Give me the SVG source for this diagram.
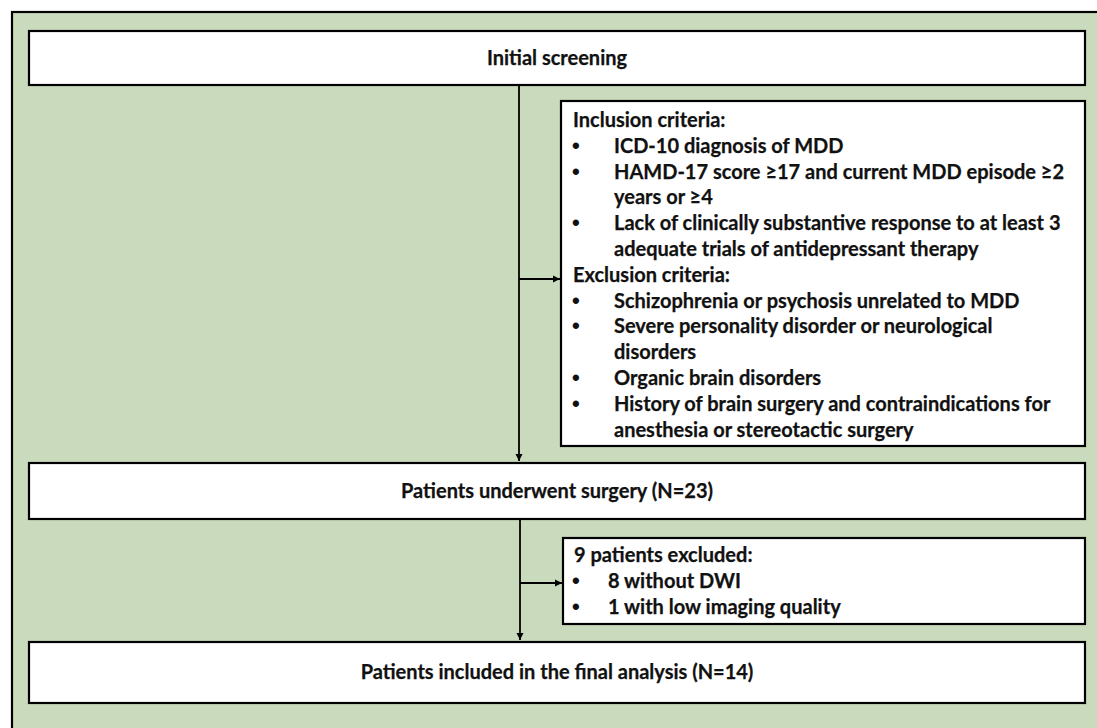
<svg xmlns="http://www.w3.org/2000/svg" width="1097" height="728" viewBox="0 0 1097 728">
<defs>
<style>
.box{fill:#fff;stroke:#000;stroke-width:2.2}
.t{font-family:Lato,"Open Sans","Liberation Sans",sans-serif;font-weight:bold;font-size:20px;fill:#111;stroke:#111;stroke-width:0.25}
.b{font-family:"Liberation Sans",sans-serif;font-weight:bold;font-size:22px;fill:#111}
.c{text-anchor:middle}
.ln{stroke:#000;stroke-width:1.8;fill:none}
</style>
<marker id="ah" markerWidth="8" markerHeight="8" refX="7" refY="4" orient="auto" markerUnits="userSpaceOnUse">
<path d="M0,0.5 L7,4 L0,7.5 Z" fill="#000"/>
</marker>
</defs>
<rect x="0" y="0" width="1097" height="728" fill="#fff"/>
<rect x="12" y="12" width="1100" height="730" fill="#CADABD" stroke="#000" stroke-width="2.2"/>
<g id="connectors">
<line class="ln" x1="519" y1="86" x2="519" y2="461" marker-end="url(#ah)"/>
<line class="ln" x1="519" y1="279" x2="560" y2="279" marker-end="url(#ah)"/>
<line class="ln" x1="520" y1="520" x2="520" y2="640" marker-end="url(#ah)"/>
<line class="ln" x1="520" y1="583" x2="562" y2="583" marker-end="url(#ah)"/>
</g>
<g id="initial">
<rect class="box" x="29" y="31" width="1056" height="54"/>
<text class="t c" x="557" y="65">Initial screening</text>
</g>
<g id="criteria">
<rect class="box" x="561" y="101" width="524" height="345"/>
<text class="t" x="573" y="127">Inclusion criteria:</text>
<text class="b" x="572" y="152.8">•</text><text class="t" x="614" y="152.8">ICD-10 diagnosis of MDD</text>
<text class="b" x="572" y="178.6">•</text><text class="t" x="614" y="178.6">HAMD-17 score ≥17 and current MDD episode ≥2</text>
<text class="t" x="614" y="204.4">years or ≥4</text>
<text class="b" x="572" y="230.2">•</text><text class="t" x="614" y="230.2">Lack of clinically substantive response to at least 3</text>
<text class="t" x="614" y="256">adequate trials of antidepressant therapy</text>
<text class="t" x="573" y="281.8">Exclusion criteria:</text>
<text class="b" x="572" y="307.6">•</text><text class="t" x="614" y="307.6">Schizophrenia or psychosis unrelated to MDD</text>
<text class="b" x="572" y="333.4">•</text><text class="t" x="614" y="333.4">Severe personality disorder or neurological</text>
<text class="t" x="614" y="359.2">disorders</text>
<text class="b" x="572" y="385">•</text><text class="t" x="614" y="385">Organic brain disorders</text>
<text class="b" x="572" y="410.8">•</text><text class="t" x="614" y="410.8">History of brain surgery and contraindications for</text>
<text class="t" x="614" y="436.6">anesthesia or stereotactic surgery</text>
</g>
<g id="surgery">
<rect class="box" x="29" y="463" width="1056" height="56"/>
<text class="t c" x="557" y="498">Patients underwent surgery (N=23)</text>
</g>
<g id="excluded">
<rect class="box" x="563" y="538" width="522" height="86"/>
<text class="t" x="574" y="562">9 patients excluded:</text>
<text class="b" x="572" y="588">•</text><text class="t" x="608" y="588">8 without DWI</text>
<text class="b" x="572" y="613.5">•</text><text class="t" x="608" y="613.5">1 with low imaging quality</text>
</g>
<g id="final">
<rect class="box" x="29" y="642" width="1056" height="61"/>
<text class="t c" x="557" y="678.5">Patients included in the final analysis (N=14)</text>
</g>
</svg>
